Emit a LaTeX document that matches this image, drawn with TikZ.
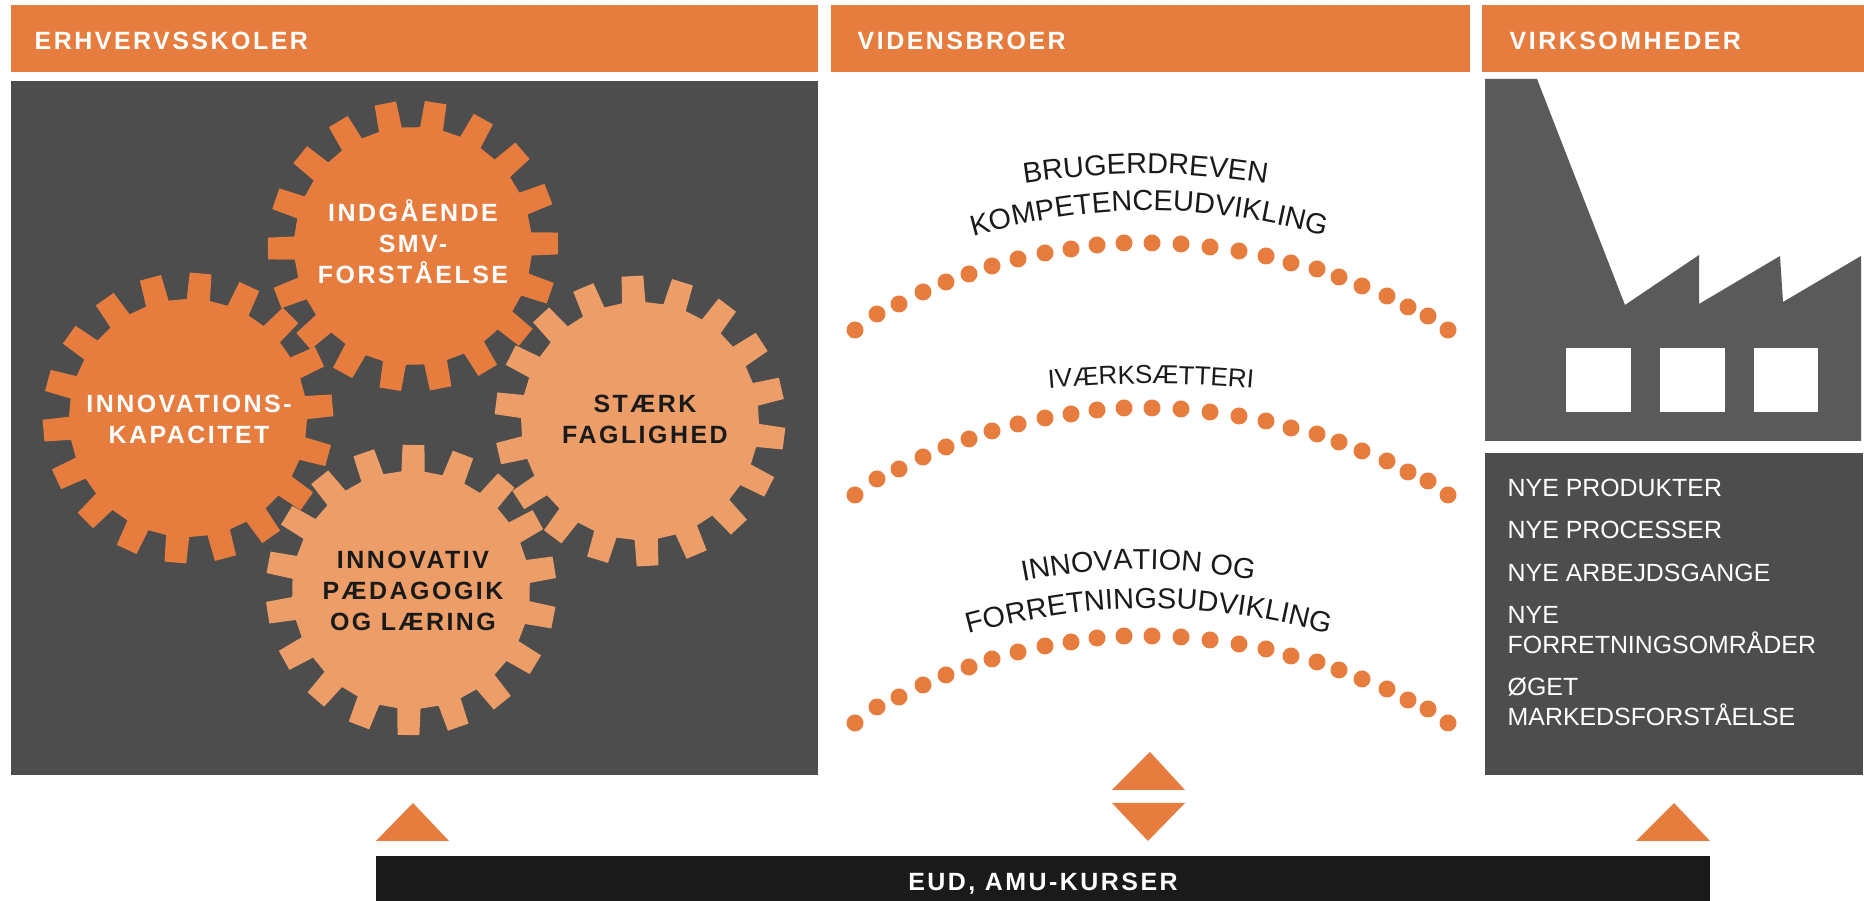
\documentclass[tikz,border=0pt]{standalone}
\usepackage{fontspec}
\usepackage{xcolor}
\usepackage{tikz}
\usetikzlibrary{decorations.text}
\setmainfont{Liberation Sans}
\newfontfamily\capsfont{Liberation Sans}[LetterSpace=10]
\definecolor{barorange}{HTML}{E67C3E}
\definecolor{softorange}{HTML}{ED9E68}
\definecolor{panelgray}{HTML}{4D4D4D}
\definecolor{factorygray}{HTML}{5A5A5A}
\definecolor{inkblack}{HTML}{1A1A1A}

% x, y, turn, colour
\newcommand{\gearwheel}[4]{%
  \fill[#4,shift={(#1,#2)},rotate=#3] (-5.6:1.19) -- (-4.3:1.455) -- (4.3:1.455) -- (5.6:1.19)
    foreach \tooth in {20,40,...,340} { -- (\tooth-5.6:1.19) -- (\tooth-4.3:1.455) -- (\tooth+4.3:1.455) -- (\tooth+5.6:1.19) } -- cycle;
}
\newcommand{\arcfont}{\fontsize{8.2}{9}\selectfont\color{inkblack}}
\newcommand{\arcfontsmall}{\fontsize{7.4}{9}\selectfont\color{inkblack}}

\tikzset{
  headlabel/.style={anchor=base west,inner sep=0,text=white,font=\capsfont\bfseries\fontsize{7.1}{8.8}\selectfont},
  gearlabel/.style={inner sep=0,align=center,font=\capsfont\bfseries\fontsize{7.1}{8.8}\selectfont},
  itemlabel/.style={anchor=base west,inner sep=0,text=white,font=\fontsize{7.08}{8.6}\selectfont},
  arctext/.style={decorate,decoration={text along path,text align=center,text={|\arcfont|#1}}},
  smallarctext/.style={decorate,decoration={text along path,text align=center,text={|\arcfontsmall|#1}}}
}

\begin{document}
\begin{tikzpicture}
  \useasboundingbox (0,0) rectangle (18.64,9.01);

  % headers
  \fill[barorange] (0.11,8.29) rectangle (8.18,8.96);
  \fill[barorange] (8.31,8.29) rectangle (14.70,8.96);
  \fill[barorange] (14.82,8.29) rectangle (18.64,8.96);
  \node[headlabel] (erhverv) at (0.34,8.51) {ERHVERVSSKOLER};
  \node[headlabel] (videns) at (8.57,8.51) {VIDENSBROER};
  \node[headlabel] (virksom) at (15.09,8.51) {VIRKSOMHEDER};

  % gears
  \fill[panelgray] (0.11,1.26) rectangle (8.18,8.20);
  \gearwheel{1.88}{4.83}{5}{barorange}
  \gearwheel{4.13}{6.55}{1}{barorange}
  \gearwheel{6.40}{4.80}{13}{softorange}
  \gearwheel{4.11}{3.11}{9}{softorange}
  \node[gearlabel,text=white] (kapacitet) at (1.89,4.82) {INNOVATIONS-\\KAPACITET};
  \node[gearlabel,text=white] (forstaaelse) at (4.13,6.59) {INDGÅENDE\\SMV-\\FORSTÅELSE};
  \node[gearlabel,text=inkblack] (faglighed) at (6.45,4.82) {STÆRK\\FAGLIGHED};
  \node[gearlabel,text=inkblack] (laering) at (4.13,3.10) {INNOVATIV\\PÆDAGOGIK\\OG LÆRING};

  % dotted arcs
  \foreach \arcshift in {0,-1.65,-3.93} {
    \foreach \dotx/\doty in {8.55/5.71,8.77/5.87,8.99/5.97,9.23/6.09,9.46/6.19,9.69/6.27,9.92/6.35,10.18/6.42,10.45/6.48,10.71/6.52,10.97/6.56,11.24/6.58,11.52/6.58,11.81/6.57,12.10/6.54,12.39/6.50,12.66/6.45,12.91/6.38,13.17/6.32,13.39/6.24,13.62/6.15,13.87/6.05,14.08/5.94,14.28/5.85,14.48/5.71} {
      \fill[barorange] (\dotx,\doty+\arcshift) circle (0.085);
    }
  }

  % curved text
  \path[arctext={BRUGERDREVEN}] (9.84,7.11) .. controls (11.05,7.33) and (11.86,7.33) .. (13.07,7.10);
  \path[arctext={KOMPETENCEUDVIKLING}] (9.33,6.53) .. controls (10.91,7.03) and (12.08,7.03) .. (13.66,6.53);
  \path[smallarctext={IVÆRKSÆTTERI}] (10.10,5.09) .. controls (11.17,5.20) and (11.85,5.20) .. (12.92,5.09);
  \path[arctext={INNOVATION OG}] (9.87,3.12) .. controls (11.01,3.38) and (11.76,3.38) .. (12.90,3.14);
  \path[arctext={FORRETNINGSUDVIKLING}] (9.30,2.56) .. controls (10.89,3.05) and (12.09,3.05) .. (13.68,2.56);

  % factory
  \fill[factorygray] (14.85,8.22) -- (15.37,8.22) -- (16.25,5.96) -- (16.99,6.46) -- (16.99,5.97) -- (17.80,6.45) -- (17.83,5.99) -- (18.61,6.45) -- (18.61,4.60) -- (14.85,4.60) -- cycle;
  \fill[white] (15.66,4.89) rectangle (16.31,5.53);
  \fill[white] (16.60,4.89) rectangle (17.25,5.53);
  \fill[white] (17.54,4.89) rectangle (18.18,5.53);

  \fill[panelgray] (14.85,1.26) rectangle (18.63,4.48);
  \foreach \itemy/\itemtext [count=\i] in {4.04/NYE PRODUKTER,3.62/NYE PROCESSER,3.19/NYE ARBEJDSGANGE,2.77/NYE,2.47/FORRETNINGSOMRÅDER,2.05/ØGET,1.75/MARKEDSFORSTÅELSE} {
    \node[itemlabel] (item\i) at (15.07,\itemy) {\itemtext};
  }

  % triangles and bottom bar
  \fill[barorange] (3.76,0.60) -- (4.13,0.98) -- (4.49,0.60) -- cycle;
  \fill[barorange] (11.12,1.11) -- (11.50,1.49) -- (11.85,1.11) -- cycle;
  \fill[barorange] (11.12,0.98) -- (11.48,0.60) -- (11.85,0.98) -- cycle;
  \fill[barorange] (16.36,0.60) -- (16.74,0.98) -- (17.10,0.60) -- cycle;
  \fill[inkblack] (3.76,0) rectangle (17.10,0.45);
  \node[headlabel,anchor=base] (kurser) at (10.43,0.10) {EUD, AMU-KURSER};
\end{tikzpicture}
\end{document}
